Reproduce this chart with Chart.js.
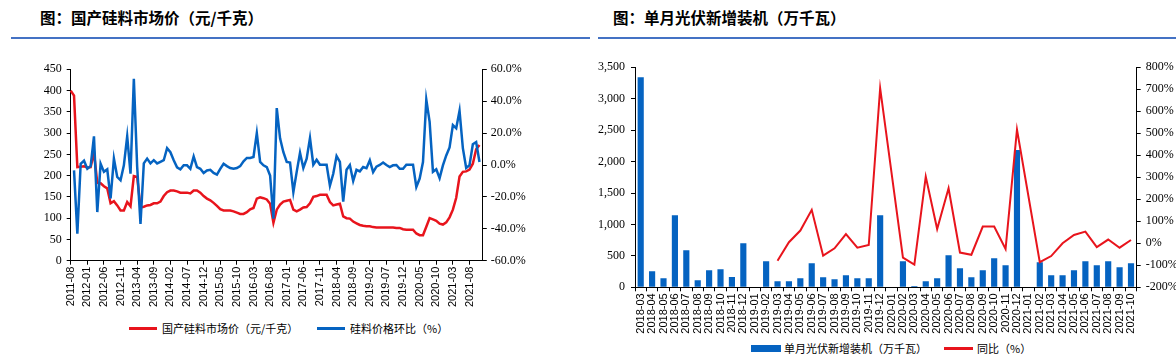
<!DOCTYPE html>
<html><head><meta charset="utf-8">
<script src="https://cdn.jsdelivr.net/npm/chart.js@4.4.0/dist/chart.umd.min.js"></script>
<style>
html,body{margin:0;padding:0;background:#fff;width:1176px;height:357px;overflow:hidden;position:relative;font-family:"Noto Sans CJK SC",sans-serif}
.title{position:absolute;top:6px;font-size:15.5px;font-weight:700;color:#000;white-space:nowrap;line-height:22px;font-family:"Noto Sans CJK SC",sans-serif}
.rule{position:absolute;top:37px;height:2px;background:#4472C4}
#c1{position:absolute;left:0;top:50px}
#c2{position:absolute;left:590px;top:50px}
.lg{position:absolute;font-size:11px;white-space:nowrap;color:#000;line-height:14px;font-family:"Noto Sans CJK SC",sans-serif}
.sw{position:absolute}
</style>
</head><body>
<div class="title" style="left:40px">图：国产硅料市场价（元/千克）</div>
<div class="rule" style="left:11px;width:579px"></div>
<div class="title" style="left:613px">图：单月光伏新增装机（万千瓦）</div>
<div class="rule" style="left:598px;width:578px"></div>
<canvas id="c1" width="590" height="265"></canvas>
<canvas id="c2" width="586" height="290"></canvas>

<div class="sw" style="left:129px;top:327px;width:28px;height:3px;background:#E8141C"></div>
<div class="lg" style="left:162px;top:321px">国产硅料市场价（元/千克）</div>
<div class="sw" style="left:317px;top:327px;width:28px;height:3px;background:#0563C1"></div>
<div class="lg" style="left:350px;top:321px">硅料价格环比（%）</div>

<div class="sw" style="left:751px;top:345px;width:30px;height:7px;background:#0563C1"></div>
<div class="lg" style="left:784px;top:341px">单月光伏新增装机（万千瓦）</div>
<div class="sw" style="left:944px;top:347px;width:29px;height:3px;background:#E8141C"></div>
<div class="lg" style="left:977px;top:341px">同比（%）</div>

<script>
// ---------- Left chart data ----------
const siliconStartYear = 2011, siliconStartMonth = 8, siliconMonthCount = 125; // 2011-08 .. 2021-12
const siliconMonths = [];
for (let k = 0; k < siliconMonthCount; k++) {
  const m = siliconStartMonth - 1 + k;
  const yy = siliconStartYear + Math.floor(m / 12);
  const mm = (m % 12) + 1;
  siliconMonths.push(yy + '-' + (mm < 10 ? '0' + mm : '' + mm));
}
const siliconPrice = [400,388,220,221,222,219,220,255,183,182,
175,170,135,140,130,118,118,138,128,199,
197,125,127,130,131,135,135,139,152,161,
165,165,163,160,160,160,158,165,165,160,
152,146,142,136,129,121,118,118,118,116,
113,110,110,114,121,124,146,149,147,144,
134,89,120,132,139,141,143,120,116,120,
125,126,135,150,152,155,155,155,138,130,
132,134,104,100,99,92,88,84,82,81,
81,79,78,78,78,78,78,78,77,77,
74,73,73,73,64,60,60,80,100,97,
94,87,85,90,102,120,148,198,209,210,
214,228,262,272];
const siliconMoM = [null,-3.4,-43,0.8,2.7,-2.4,-0.7,18,-29.5,0.8,
-4.3,-2.7,-21,4,-7.5,-9.6,-0.2,18,-5.4,54,
-1,-37,1,4,1,3,1,2,3,10.5,
8,3,-1.5,-2.7,-0.2,-0.2,-2.4,5.4,-1.3,-2.4,
-5,-3.4,-3,-5,-6,-2.4,0.8,-0.7,-1.9,-2.4,
-1.9,-0.7,2.3,4.4,4.4,5,20,1.9,-0.2,-1.3,
-6.6,-33.6,35.7,16.7,8,1.9,1.5,-17,-4.3,7.7,
-1.9,4,16.9,0.2,3.3,0.2,0.2,0.2,-13,-5.5,
5.6,1.9,-23,-3,0,-10,-3,-4,-1.3,-2,
3,-4.5,-1,0,1.5,0,-1.3,-0.2,0,-2.4,
-2.4,0.2,0.2,0.2,-13.8,-8.5,1.9,41,27,-4.3,
-2.7,-8.2,-0.2,6,11,25,23,34,10.6,-1.9,
-0.2,13,14.4,1.9];
const priceTicks = [0,50,100,150,200,250,300,350,400,450];
const momTicks = [-60,-40,-20,0,20,40,60];

// ---------- Right chart data ----------
const pvMonths = ['2018-03','2018-04','2018-05','2018-06','2018-07','2018-08','2018-09','2018-10','2018-11','2018-12',
'2019-01','2019-02','2019-03','2019-04','2019-05','2019-06','2019-07','2019-08','2019-09','2019-10','2019-11','2019-12',
'2020-01','2020-02','2020-03','2020-04','2020-05','2020-06','2020-07','2020-08','2020-09','2020-10','2020-11','2020-12',
'2021-01','2021-02','2021-03','2021-04','2021-05','2021-06','2021-07','2021-08','2021-09','2021-10'];
const pvInstalls = [3340,255,143,1145,589,111,270,286,164,700,
null,414,95,95,143,382,159,127,191,143,143,1145,
null,414,21,95,143,509,302,159,270,461,350,2185,
null,398,191,191,270,414,350,414,318,382];
const pvYoY = [null,null,null,null,null,null,null,null,null,null,
null,null,-79,5,58,152,-56,-23,42,-20,-8,705,
null,-65,-97,303,65,250,-42,-52,76,76,-26,517,
null,-86,-58,0,38,53,-17,17,-20,15];

const RED = '#E8141C', BLUE = '#0563C1';
const serif = {family:'"Liberation Serif","Times New Roman",serif', size:12};
const sansX = {family:'"Liberation Sans",Arial,sans-serif', size:11};

function fixW(w){ return s => { s.width = w; }; }
function fixH(h){ return s => { s.height = h; }; }

new Chart(document.getElementById('c1'), {
  type: 'line',
  data: {
    labels: siliconMonths,
    datasets: [
      {label:'国产硅料市场价（元/千克）', data: siliconPrice, yAxisID:'y', borderColor:RED, borderWidth:2.5, pointRadius:0, tension:0, order:1},
      {label:'硅料价格环比（%）', data: siliconMoM, yAxisID:'y1', borderColor:BLUE, borderWidth:2.5, pointRadius:0, tension:0, order:0}
    ]
  },
  options: {
    responsive:false, animation:false, devicePixelRatio:1, events:[],
    layout:{padding:{top:19.3,left:0,right:0,bottom:0}},
    plugins:{legend:{display:false}, tooltip:{enabled:false}},
    scales:{
      x:{type:'category', offset:false,
        grid:{display:true, drawOnChartArea:false, drawTicks:true, tickLength:4,
              tickColor: c => (c.index % 5 === 0 ? '#000' : 'rgba(0,0,0,0)')},
        border:{display:true,color:'#000',width:1},
        ticks:{autoSkip:false, maxRotation:90, minRotation:90, padding:2, color:'#000', font:sansX,
               callback:(v,i)=> (i % 5 === 0 ? siliconMonths[i] : '')},
        afterFit: fixH(54.3)},
      y:{position:'left', min:0, max:450,
        afterBuildTicks: s => { s.ticks = priceTicks.map(v => ({value:v})); },
        grid:{drawOnChartArea:false, tickLength:4, tickColor:'#000'},
        border:{color:'#000',width:1},
        ticks:{color:'#000', font:serif, padding:5},
        afterFit: fixW(70.7)},
      y1:{position:'right', min:-60, max:60,
        afterBuildTicks: s => { s.ticks = momTicks.map(v => ({value:v})); },
        grid:{drawOnChartArea:false, tickLength:4, tickColor:'#000'},
        border:{color:'#000',width:1},
        ticks:{color:'#000', font:serif, padding:4, callback: v => v.toFixed(1) + '%'},
        afterFit: fixW(107.2)}
    }
  }
});

new Chart(document.getElementById('c2'), {
  type: 'bar',
  data: {
    labels: pvMonths,
    datasets: [
      {type:'bar', label:'单月光伏新增装机（万千瓦）', data: pvInstalls, yAxisID:'y', backgroundColor:BLUE, borderWidth:0,
       barPercentage:0.54, categoryPercentage:1, order:1},
      {type:'line', label:'同比（%）', data: pvYoY, yAxisID:'y1', borderColor:RED, borderWidth:2, pointRadius:0,
       tension:0, spanGaps:true, order:0}
    ]
  },
  options: {
    responsive:false, animation:false, devicePixelRatio:1, events:[],
    layout:{padding:{top:17.3,left:0,right:0,bottom:0}},
    plugins:{legend:{display:false}, tooltip:{enabled:false}},
    scales:{
      x:{offset:true,
        grid:{display:true, offset:true, drawOnChartArea:false, drawTicks:true, tickLength:4, tickColor:'#000'},
        border:{display:true,color:'#000',width:1},
        ticks:{autoSkip:false, maxRotation:90, minRotation:90, padding:2, color:'#000', font:sansX},
        afterFit: fixH(52.7)},
      y:{position:'left', min:0, max:3500,
        ticks:{stepSize:500, color:'#000', font:serif, padding:6, callback: v => v.toLocaleString('en-US')},
        grid:{drawOnChartArea:false, tickLength:4, tickColor:'#000'},
        border:{color:'#000',width:1},
        afterFit: fixW(45)},
      y1:{position:'right', min:-200, max:800,
        ticks:{stepSize:100, color:'#000', font:serif, padding:5, callback: v => v + '%'},
        grid:{drawOnChartArea:false, tickLength:4, tickColor:'#000'},
        border:{color:'#000',width:1},
        afterFit: fixW(39.3)}
    }
  }
});
</script>
</body></html>
